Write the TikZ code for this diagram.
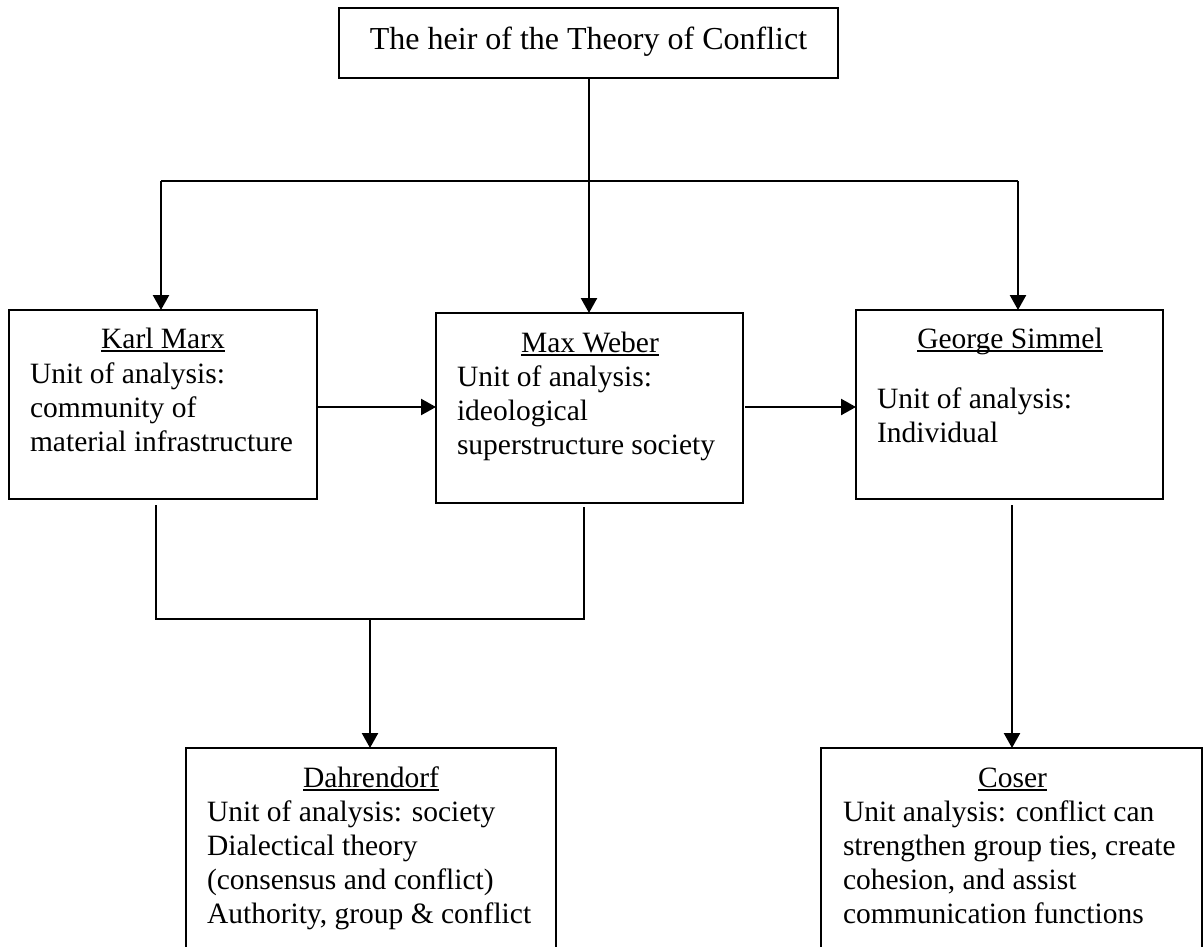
\documentclass[tikz,border=0pt]{standalone}
\usepackage{fontspec}
\setmainfont{Liberation Serif}
\usetikzlibrary{arrows.meta}
\newcommand\myul[1]{\setbox0\hbox{#1}\rlap{\rule[-3.6pt]{\wd0}{1.8pt}}\box0}
\begin{document}
\begin{tikzpicture}[x=1pt,y=-1pt,
  box/.style={draw,line width=2pt,outer sep=0pt,inner sep=0pt},
  conn/.style={line width=2.4pt},
  arr/.style={conn,-{Triangle[length=15pt,width=16pt]}},
  txt/.style={inner sep=0pt,outer sep=0pt,font=\fontsize{29.5}{34}\selectfont},
  ttl/.style={txt,anchor=base},
  bdy/.style={txt,anchor=base west}]
\useasboundingbox (0,0) rectangle (1204,947);

% boxes
\node[box,minimum width=499pt,minimum height=70pt] (head) at (588.5,43) {};
\node[box,minimum width=308pt,minimum height=189pt] (marx) at (163,404.5) {};
\node[box,minimum width=307pt,minimum height=190pt] (weber) at (589.5,408) {};
\node[box,minimum width=307pt,minimum height=189pt] (simmel) at (1009.5,404.5) {};
\node[box,minimum width=370pt,minimum height=212pt] (dahr) at (371,854) {};
\node[box,minimum width=381pt,minimum height=212pt] (coser) at (1011.5,854) {};

% texts
\node[txt,anchor=base,font=\fontsize{32}{36}\selectfont] (headtxt) at (588.5,50) {The heir of the Theory of Conflict};

\node[ttl] (marxt) at (163,348) {\myul{Karl Marx}};
\node[bdy] (marxb) at (30,383) {\vtop{\hbox{Unit of analysis:}\hbox{community of}\hbox{material infrastructure}}};

\node[ttl] (webert) at (590,352) {\myul{Max Weber}};
\node[bdy] (weberb) at (457,386) {\vtop{\hbox{Unit of analysis:}\hbox{ideological}\hbox{superstructure society}}};

\node[ttl] (simmelt) at (1010,348) {\myul{George Simmel}};
\node[bdy] (simmelb) at (877,408) {\vtop{\hbox{Unit of analysis:}\hbox{Individual}}};

\node[ttl] (dahrt) at (371,787) {\myul{Dahrendorf}};
\node[bdy] (dahrb) at (207,821) {\vtop{\hbox{Unit of analysis: society}\hbox{Dialectical theory}\hbox{(consensus and conflict)}\hbox{Authority, group \& conflict}}};

\node[ttl] (cosert) at (1012.5,787) {\myul{Coser}};
\node[bdy] (coserb) at (843,821) {\vtop{\hbox{Unit analysis: conflict can}\hbox{strengthen group ties, create}\hbox{cohesion, and assist}\hbox{communication functions}}};

% connectors
\coordinate (busL) at (161,181);
\coordinate (busM) at (589,181);
\coordinate (busR) at (1018,181);
\coordinate (midrow) at (0,407);
\coordinate (jL) at (156,619);
\coordinate (jR) at (584,619);
\coordinate (jM) at (370,619);
\coordinate (wS) at ([yshift=-4pt]weber.south);
\coordinate (sS) at (1012,505);

\draw[conn] (head.south -| busM) -- (busM);
\draw[conn] (busL) -- (busR);
\draw[arr] (busL) -- (busL |- marx.north);
\draw[arr] (busM) -- (busM |- weber.north);
\draw[arr] (busR) -- (busR |- simmel.north);

\draw[arr] (marx.east |- midrow) -- (weber.west |- midrow);
\draw[arr] (weber.east |- midrow) ++(2,0) -- (simmel.west |- midrow);

\draw[conn] (jL |- marx.south) ++(0,6) -- (jL) -- (jR) -- (jR |- wS);
\draw[arr] (jM) -- (jM |- dahr.north);
\draw[arr] (sS) -- (sS |- coser.north);
\end{tikzpicture}
\end{document}
